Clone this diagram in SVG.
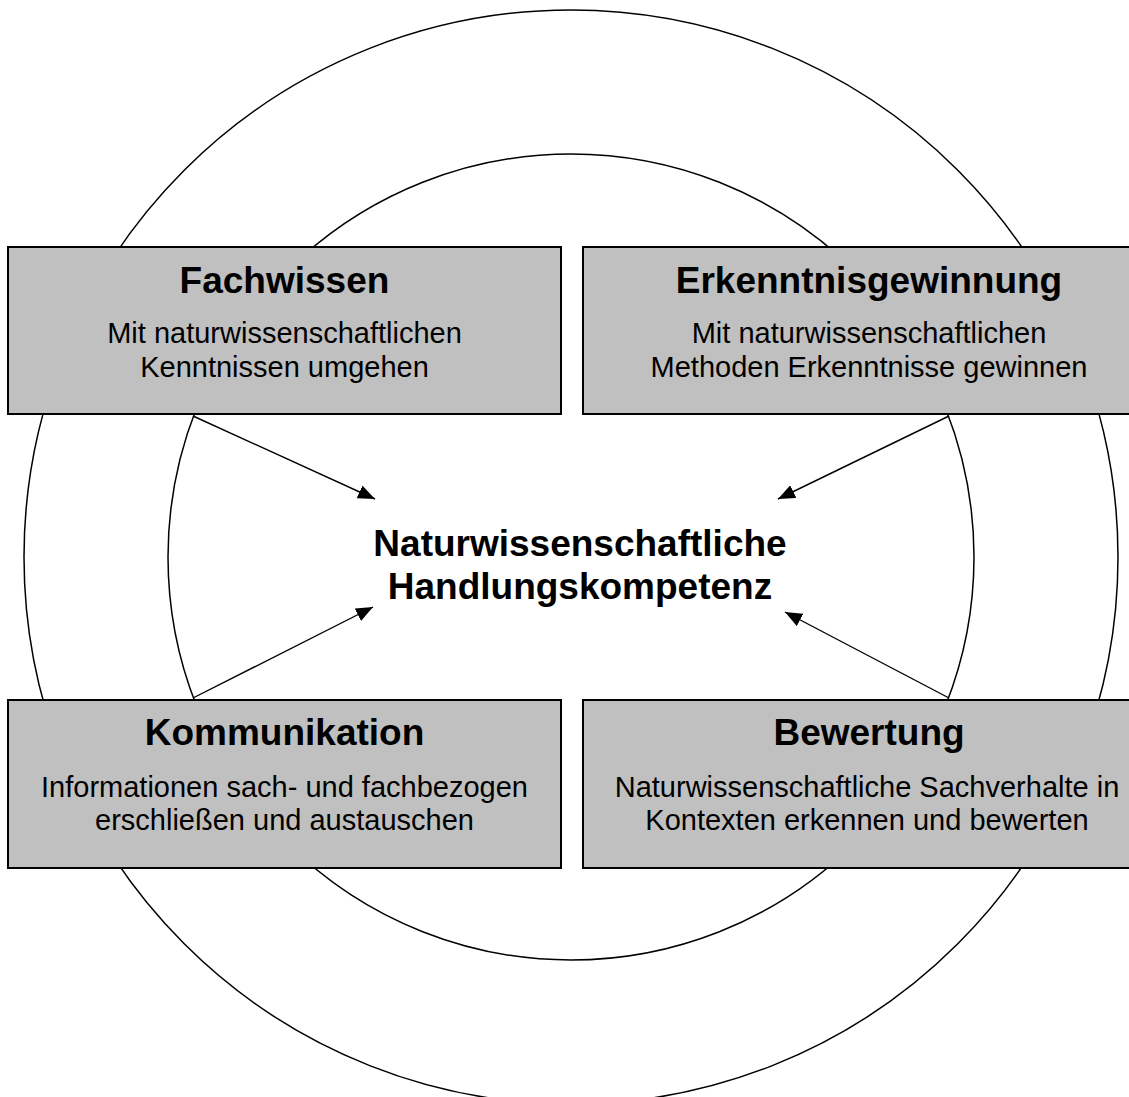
<svg xmlns="http://www.w3.org/2000/svg" width="1129" height="1097" viewBox="0 0 1129 1097">
<style>
.ring{fill:none;stroke:#000;stroke-width:1.5}
.box{fill:#c0c0c0;stroke:#000;stroke-width:2}
.title{font-family:"Liberation Sans",Arial,sans-serif;font-weight:bold;font-size:37px;text-anchor:middle;fill:#000}
.body{font-family:"Liberation Sans",Arial,sans-serif;font-size:29px;text-anchor:middle;fill:#000}
.conn{stroke:#000;stroke-width:1.4;fill:none;marker-end:url(#arrow)}
</style>
<defs>
<marker id="arrow" markerUnits="userSpaceOnUse" markerWidth="18" markerHeight="14" refX="17" refY="7" orient="auto">
<path d="M0,0 L17,7 L0,14 z" fill="#000"/>
</marker>
</defs>
<rect width="1129" height="1097" fill="#fff"/>
<g id="rings">
<circle class="ring" cx="571" cy="557" r="547"/>
<circle class="ring" cx="571" cy="557" r="403"/>
</g>
<g id="fachwissen">
<rect class="box" x="8" y="247" width="553" height="167"/>
<text class="title" x="284.5" y="293">Fachwissen</text>
<text class="body" x="284.5" y="343">Mit naturwissenschaftlichen</text>
<text class="body" x="284.5" y="377">Kenntnissen umgehen</text>
</g>
<g id="erkenntnisgewinnung">
<rect class="box" x="583" y="247" width="573" height="167"/>
<text class="title" x="869" y="293">Erkenntnisgewinnung</text>
<text class="body" x="869" y="343">Mit naturwissenschaftlichen</text>
<text class="body" x="869" y="377">Methoden Erkenntnisse gewinnen</text>
</g>
<g id="kommunikation">
<rect class="box" x="8" y="700" width="553" height="168"/>
<text class="title" x="284.5" y="745">Kommunikation</text>
<text class="body" x="284.5" y="797">Informationen sach- und fachbezogen</text>
<text class="body" x="284.5" y="830">erschließen und austauschen</text>
</g>
<g id="bewertung">
<rect class="box" x="583" y="700" width="573" height="168"/>
<text class="title" x="869" y="745">Bewertung</text>
<text class="body" x="867" y="797">Naturwissenschaftliche Sachverhalte in</text>
<text class="body" x="867" y="830">Kontexten erkennen und bewerten</text>
</g>
<g id="kompetenz">
<text class="title" x="580" y="556">Naturwissenschaftliche</text>
<text class="title" x="580" y="599">Handlungskompetenz</text>
</g>
<g id="connectors">
<line class="conn" x1="193" y1="416" x2="375" y2="499"/>
<line class="conn" x1="949" y1="416" x2="778" y2="499"/>
<line class="conn" x1="193" y1="698" x2="373" y2="607"/>
<line class="conn" x1="949" y1="698" x2="785" y2="612"/>
</g>
</svg>
